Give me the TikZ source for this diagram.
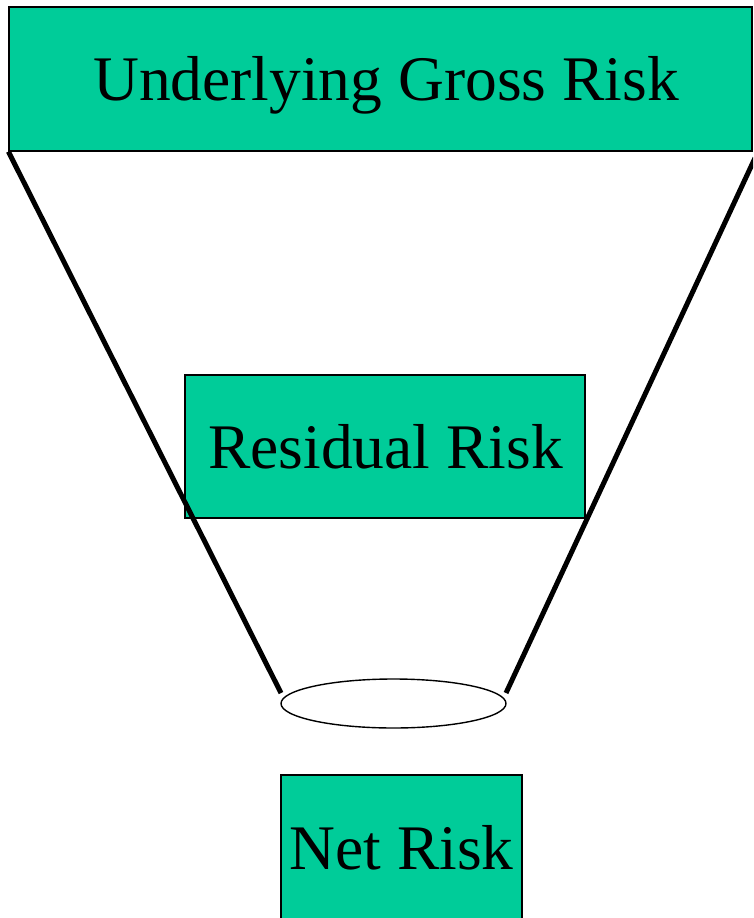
\documentclass[tikz,border=0pt]{standalone}
\usepackage{fontspec}
\setmainfont{Liberation Serif}
\usetikzlibrary{shapes.geometric}
\definecolor{riskgreen}{HTML}{00CC99}
\tikzset{
  riskbox/.style={draw=black, line width=1.2pt, fill=riskgreen, rectangle, inner sep=0pt, font=\fontsize{63.5}{70}\selectfont},
  risktext/.style={inner sep=0pt, font=\fontsize{63.5}{70}\selectfont},
  funnel/.style={line width=5pt, line cap=butt},
}
\begin{document}
\begin{tikzpicture}[x=1pt,y=-1pt]
\useasboundingbox (0,0) rectangle (753,918);
\clip (0,0) rectangle (753,918);
\fill[white] (0,0) rectangle (753,918);
\node[riskbox, minimum width=743pt, minimum height=144pt] (gross) at (380.5,79) {};
\node[risktext] (grosstext) at (386,85) {Underlying Gross Risk};
\node[riskbox, minimum width=400pt, minimum height=143pt] (resid) at (385,446.5) {};
\node[risktext] (residtext) at (385.5,447) {Residual Risk};
\node[riskbox, minimum width=241pt, minimum height=150pt] (net) at (401.5,850) {};
\node[risktext] (nettext) at (401.5,848) {Net Risk};
\node[draw, line width=1.4pt, fill=white, ellipse, minimum width=225pt, minimum height=49pt, inner sep=0pt] (mouth) at (393.5,703.5) {};
\coordinate (rtop) at (755,158);
\coordinate (lbot) at (281,693);
\coordinate (rbot) at (506,693);
\draw[funnel] (gross.south west) -- (lbot);
\draw[funnel] (rtop) -- (rbot);
\end{tikzpicture}
\end{document}
